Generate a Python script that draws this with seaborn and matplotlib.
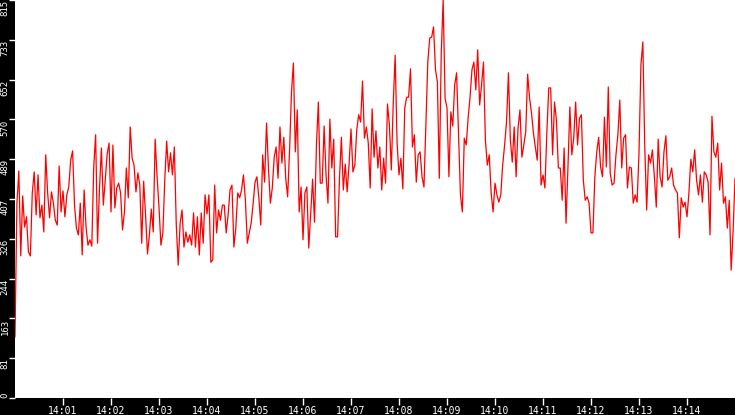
import numpy as np
import pandas as pd
import seaborn as sns
import matplotlib
matplotlib.use('Agg')
import matplotlib.pyplot as plt
import matplotlib.dates as mdates

# values, 14:00 -> 14:15, evenly spaced samples
seg1 = [125, 399, 465, 291, 414, 350, 371, 299, 291, 420, 463, 375, 457, 369, 395, 340,
        498, 420, 369, 422, 399, 364, 354, 475, 381, 424, 371, 416, 432, 487, 506, 395,
        348, 334, 399, 293, 426, 350, 313, 324, 311, 473, 539, 317, 428, 512, 395, 446, 500]
seg2 = [522, 381, 518, 389, 430, 440, 420, 344, 381, 471, 410, 555, 491, 477, 422, 461,
        436, 317, 444, 375, 295, 334, 387, 340, 530, 453, 391, 313, 338, 446, 526, 463,
        502, 457, 514, 354, 272, 358, 385, 309, 340, 319, 334, 313, 379, 309, 371, 293, 379, 317]
seg3 = [416, 377, 416, 278, 283, 436, 338, 385, 364, 395, 395, 338, 375, 426, 436, 309,
        348, 420, 410, 426, 457, 405, 317, 338, 358, 397, 442, 453, 410, 354, 498, 442,
        563, 471, 399, 430, 493, 514, 450, 555, 481, 534, 450, 412, 506]
seg4 = [627, 686, 504, 590, 381, 432, 324, 420, 432, 307, 379, 448, 360, 518, 606, 440,
        440, 557, 457, 399, 571, 471, 530, 330, 330, 450, 534, 426, 479, 422, 479, 551,
        463, 477, 549, 580, 565, 649, 532, 555, 522, 430, 592, 493, 547, 471]
seg5 = [514, 426, 491, 440, 602, 559, 467, 604, 702, 522, 457, 491, 428, 594, 616, 616,
        674, 514, 539, 442, 498, 504, 453, 432, 563, 688, 737, 739, 760, 672, 647, 450,
        706, 815, 614, 594, 453, 586, 557, 641, 666, 543, 416, 381, 532, 518, 573]
seg6 = [616, 672, 688, 631, 713, 600, 641, 688, 528, 477, 498, 420, 381, 440, 416, 401,
        416, 477, 518, 565, 666, 528, 483, 555, 453, 553, 590, 493, 518, 545, 663, 614,
        584, 543, 514, 487, 596, 436, 457, 430, 543, 635, 635, 498, 606, 569, 471]
seg7 = [471, 405, 512, 358, 473, 596, 498, 532, 606, 518, 573, 580, 446, 405, 412, 399,
        338, 338, 453, 504, 534, 473, 453, 575, 473, 637, 461, 436, 440, 498, 539, 610,
        471, 532, 539, 430, 473, 471, 399, 416, 401, 502, 682, 729, 514, 385, 498]
seg8 = [481, 508, 453, 391, 530, 453, 432, 504, 537, 446, 453, 471, 436, 426, 420, 328,
        410, 391, 401, 371, 420, 489, 463, 508, 446, 416, 457, 401, 463, 457, 442, 334,
        577, 504, 493, 522, 426, 481, 399, 412, 348, 405, 262, 340, 450]

values = seg1 + seg2 + seg3 + seg4 + seg5 + seg6 + seg7 + seg8
t_start = pd.Timestamp('2024-01-01 14:00:00')
t_end = pd.Timestamp('2024-01-01 14:15:00')
y_max = 815

df = pd.DataFrame({
    'time': pd.date_range(t_start, t_end, periods=len(values)),
    'value': values,
})

sns.set_style('white')
plt.rcParams['font.family'] = ['DejaVu Sans Mono']

fig = plt.figure(figsize=(7.35, 4.15), dpi=100, facecolor='black')
ax = fig.add_axes([15 / 735, 17 / 415, 720 / 735, 398 / 415], facecolor='white')

sns.lineplot(data=df, x='time', y='value', color='red', lw=0.9, ax=ax)

ax.set_xlim(t_start, t_end)
ax.set_ylim(0, y_max)
ax.set_xlabel('')
ax.set_ylabel('')
for s in ax.spines.values():
    s.set_visible(False)

# x axis: one tick per minute, edges unlabeled
xt = pd.date_range(t_start + pd.Timedelta(minutes=1), t_end - pd.Timedelta(minutes=1), freq='1min')
ax.set_xticks(xt)
ax.xaxis.set_major_formatter(mdates.DateFormatter('%H:%M'))
ax.tick_params(axis='x', colors='white', labelsize=7, length=5, width=1, pad=1,
               direction='out', bottom=True)

# y axis: 10 equal steps, labels truncated
yt = np.linspace(0, y_max, 11)
ax.set_yticks(yt)
ax.set_yticklabels([str(int(v)) for v in yt])
ax.tick_params(axis='y', colors='white', labelsize=6.5, length=4, width=1, pad=0,
               direction='out', left=True)
for lab in ax.get_yticklabels():
    lab.set_rotation(90)
    lab.set_va('top')
    lab.set_ha('right')
ax.get_yticklabels()[0].set_va('bottom')

fig.savefig('out.png', dpi=100, facecolor='black')
